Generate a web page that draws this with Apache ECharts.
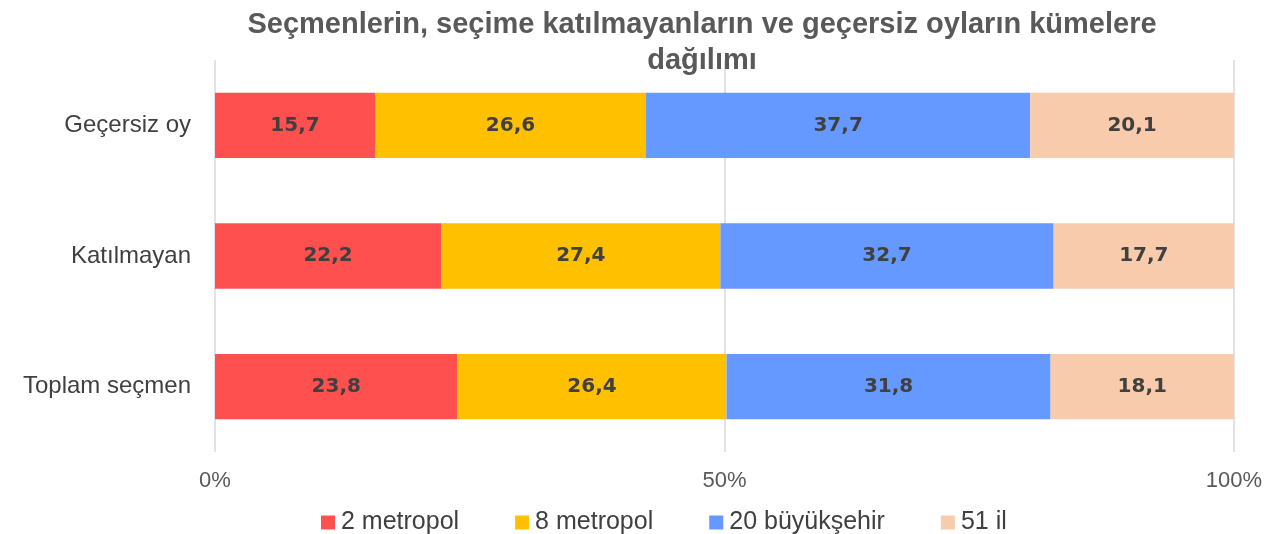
<!DOCTYPE html>
<html lang="tr">
<head>
    <meta charset="UTF-8">
    <title>Kümelere dağılım</title>
    <script src="https://cdn.jsdelivr.net/npm/echarts@6/dist/echarts.min.js"></script>
    <style>
        html, body { margin: 0; padding: 0; background: #fff; }
        #main { width: 1281px; height: 534px; }
    </style>
</head>
<body>
<div id="main"></div>
<script>
    // kategoriler (alttan üste)
    const categories = ['Toplam seçmen', 'Katılmayan', 'Geçersiz oy'];
    const seriesNames = ['2 metropol', '8 metropol', '20 büyükşehir', '51 il'];
    const metropol2 = [23.8, 22.2, 15.7];
    const metropol8 = [26.4, 27.4, 26.6];
    const buyuksehir20 = [31.8, 32.7, 37.7];
    const il51 = [18.1, 17.7, 20.1];
    const colors = ['#FF5050', '#FFC000', '#6699FF', '#F8CBAD'];

    const values = [metropol2, metropol8, buyuksehir20, il51];

    let myChart = echarts.init(document.getElementById('main'));
    let option = {
        animation: false,
        title: {
            text: 'Seçmenlerin, seçime katılmayanların ve geçersiz oyların kümelere\ndağılımı',
            left: 697,
            top: 2,
            textAlign: 'center',
            textStyle: {
                fontFamily: 'Liberation Sans, sans-serif',
                fontSize: 29,
                fontWeight: 'bold',
                color: '#595959',
                lineHeight: 36
            }
        },
        legend: {
            top: 505,
            left: 316,
            itemWidth: 14,
            itemHeight: 14,
            itemGap: 56,
            icon: 'rect',
            textStyle: {
                fontFamily: 'Liberation Sans, sans-serif',
                fontSize: 25,
                color: '#404040',
                padding: [0, 0, 0, 1]
            },
            data: seriesNames
        },
        grid: {
            left: 215,
            right: 47,
            top: 60,
            bottom: 82
        },
        xAxis: {
            type: 'value',
            min: 0,
            max: 100,
            interval: 50,
            axisLine: { show: false },
            axisTick: { show: false },
            splitLine: { lineStyle: { color: '#D9D9D9', width: 1.5 } },
            axisLabel: {
                formatter: '{value}%',
                fontFamily: 'Liberation Sans, sans-serif',
                fontSize: 22,
                color: '#595959',
                margin: 18
            }
        },
        yAxis: {
            type: 'category',
            data: categories,
            axisLine: { show: false },
            axisTick: { show: false },
            axisLabel: {
                fontFamily: 'Liberation Sans, sans-serif',
                fontSize: 24,
                color: '#404040',
                margin: 24
            }
        },
        series: seriesNames.map((name, i) => ({
            name: name,
            type: 'bar',
            stack: 'toplam',
            barWidth: '50%',
            itemStyle: { color: colors[i] },
            label: {
                show: true,
                position: 'inside',
                formatter: p => String(p.value).replace('.', ','),
                fontFamily: 'DejaVu Sans, sans-serif',
                fontWeight: 'bold',
                fontSize: 20,
                color: '#404040'
            },
            data: values[i]
        }))
    };
    myChart.setOption(option);
</script>
</body>
</html>
